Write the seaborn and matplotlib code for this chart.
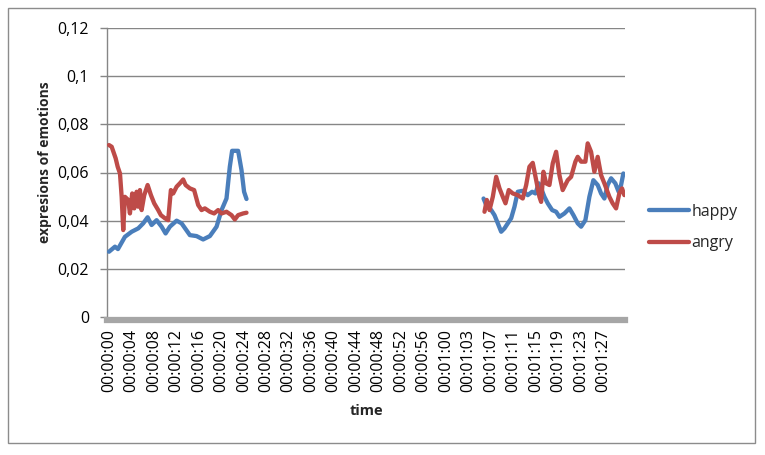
import matplotlib
matplotlib.use("Agg")
import matplotlib.pyplot as plt
import matplotlib.patches as mpatches
from matplotlib.lines import Line2D
import seaborn as sns
import pandas as pd

# ---------------- data ----------------
tick_labels = ["00:00:00", "00:00:04", "00:00:08", "00:00:12", "00:00:16", "00:00:20",
               "00:00:24", "00:00:28", "00:00:32", "00:00:36", "00:00:40", "00:00:44",
               "00:00:48", "00:00:52", "00:00:56", "00:01:00", "00:01:03", "00:01:07",
               "00:01:11", "00:01:15", "00:01:19", "00:01:23", "00:01:27"]
tick_positions = [0, 4, 8, 12, 16, 20, 24, 28, 32, 36, 40, 44, 48, 52, 56, 60, 64, 68,
                  72, 76, 80, 84, 88]

happy_left_pos = [0, 1.07, 1.6, 2.84, 4.04, 5.21, 6.1, 6.88, 7.59, 8.48, 9.37, 10.08,
                  10.84, 12.04, 12.92, 14.4, 15.59, 16.76, 17.96, 19.15, 20.04, 20.92,
                  21.51, 21.92, 22.99, 23.59, 24.05, 24.48]
happy_left = [0.0271, 0.0292, 0.0282, 0.0333, 0.0354, 0.0368, 0.0389, 0.0414, 0.0382,
              0.0402, 0.0375, 0.0347, 0.0375, 0.0400, 0.0389, 0.0340, 0.0336, 0.0322,
              0.0336, 0.0375, 0.0444, 0.0492, 0.0624, 0.0690, 0.0690, 0.0610, 0.0520,
              0.0490]

angry_left_pos = [0, 0.48, 1.19, 1.55, 1.96, 2.26, 2.54, 2.84, 3.43, 3.73, 4.14, 4.5,
                  4.92, 5.21, 5.51, 5.81, 6.28, 6.88, 7.47, 8.05, 8.76, 9.24, 9.96,
                  10.54, 11.02, 11.43, 12.04, 12.62, 13.21, 13.64, 14.4, 15.16, 15.88,
                  16.48, 17.07, 17.96, 18.72, 19.43, 20.04, 20.92, 21.81, 22.4, 22.99,
                  23.88, 24.48]
angry_left = [0.0714, 0.0707, 0.0659, 0.0624, 0.0596, 0.0499, 0.0361, 0.0499, 0.0486,
              0.0430, 0.0513, 0.0451, 0.0520, 0.0458, 0.0527, 0.0444, 0.0506, 0.0548,
              0.0506, 0.0472, 0.0444, 0.0423, 0.0410, 0.0402, 0.0527, 0.0513, 0.0541,
              0.0555, 0.0571, 0.0548, 0.0534, 0.0527, 0.0465, 0.0444, 0.0451, 0.0437,
              0.0430, 0.0444, 0.0430, 0.0437, 0.0423, 0.0405, 0.0423, 0.0430, 0.0433]

happy_right_pos = [66.67, 67.15, 68.04, 68.62, 69.21, 69.81, 70.4, 70.99, 71.59, 72.18,
                   72.76, 73.65, 74.54, 75.32, 75.91, 76.5, 76.92, 77.51, 78.1, 78.88,
                   79.59, 80.18, 81.07, 81.96, 82.67, 83.43, 84.04, 84.8, 85.51, 86.22,
                   86.99, 87.59, 88.18, 88.76, 89.37, 90.13, 90.72, 91.15, 91.56]
happy_right = [0.0492, 0.0465, 0.0444, 0.0423, 0.0389, 0.0354, 0.0368, 0.0389, 0.0410,
               0.0458, 0.0520, 0.0524, 0.0506, 0.0520, 0.0513, 0.0555, 0.0534, 0.0499,
               0.0472, 0.0444, 0.0437, 0.0416, 0.0430, 0.0451, 0.0423, 0.0389, 0.0375,
               0.0402, 0.0499, 0.0568, 0.0548, 0.0513, 0.0492, 0.0548, 0.0576, 0.0555,
               0.0520, 0.0548, 0.0596]

angry_right_pos = [66.84, 67.25, 67.73, 68.32, 68.92, 69.51, 70.1, 70.58, 71.16, 71.88,
                   72.76, 73.65, 74.26, 74.84, 75.43, 76.04, 76.62, 76.92, 77.33, 77.81,
                   78.4, 78.99, 79.59, 80.18, 80.76, 81.65, 82.26, 83.02, 83.43, 84.04,
                   84.8, 85.21, 85.81, 86.4, 86.99, 87.59, 88.18, 89.07, 89.65, 90.26,
                   90.84, 91.32, 91.73]
angry_right = [0.0437, 0.0486, 0.0444, 0.0499, 0.0582, 0.0534, 0.0499, 0.0472, 0.0527,
               0.0513, 0.0506, 0.0492, 0.0548, 0.0624, 0.0640, 0.0568, 0.0499, 0.0478,
               0.0603, 0.0555, 0.0548, 0.0638, 0.0686, 0.0589, 0.0527, 0.0568, 0.0582,
               0.0645, 0.0665, 0.0645, 0.0645, 0.0721, 0.0686, 0.0603, 0.0665, 0.0589,
               0.0555, 0.0499, 0.0472, 0.0451, 0.0513, 0.0534, 0.0506]

y_ticks = [0, 0.02, 0.04, 0.06, 0.08, 0.10, 0.12]
y_tick_labels = ["0", "0,02", "0,04", "0,06", "0,08", "0,1", "0,12"]

series = ["happy", "angry"]
colors = {"happy": "#4A7EBB", "angry": "#BE4B48"}

# ------------- long table -------------
frames = []
for name, seg, pos, val in [("happy", 0, happy_left_pos, happy_left),
                            ("happy", 1, happy_right_pos, happy_right),
                            ("angry", 0, angry_left_pos, angry_left),
                            ("angry", 1, angry_right_pos, angry_right)]:
    frames.append(pd.DataFrame({"pos": pos, "value": val,
                                "emotion": name, "segment": seg}))
df = pd.concat(frames, ignore_index=True)

# ---------------- plot ----------------
sns.set_style("white")
plt.rcParams["font.family"] = ["Open Sans", "DejaVu Sans"]

fig = plt.figure(figsize=(7.65, 4.55), dpi=100)
ax = fig.add_axes([107 / 765, 1 - 317 / 455, (625 - 107) / 765, (317 - 28) / 455])

for yv in y_ticks[1:]:
    ax.axhline(yv, color="#868686", lw=1.0, zorder=0)

sns.lineplot(data=df, x="pos", y="value", hue="emotion", units="segment",
             estimator=None, palette=colors, hue_order=series, linewidth=3.1,
             legend=False, ax=ax, zorder=3)

ax.set_xlim(-0.35, 91.85)
ax.set_ylim(0, 0.12)
ax.set_yticks(y_ticks)
ax.set_yticklabels(y_tick_labels)
ax.set_xticks(tick_positions)
ax.set_xticklabels(tick_labels)

for s in ["top", "right"]:
    ax.spines[s].set_visible(False)
ax.spines["left"].set_color("#868686")
ax.spines["left"].set_linewidth(1.0)
ax.spines["bottom"].set_color("#A6A6A6")
ax.spines["bottom"].set_linewidth(4.5)
ax.spines["bottom"].set_position(("outward", 2.5))

ax.tick_params(axis="y", which="both", left=True, length=5, width=1.0,
               color="#868686", pad=8, labelsize=11.5, labelcolor="black")
ax.tick_params(axis="x", which="both", bottom=False, length=0, pad=6,
               labelsize=11.5, labelcolor="black", labelrotation=90)

ax.set_xlabel("time", fontsize=10.5, fontweight="bold", labelpad=9)
ax.set_ylabel("")
fig.text(45 / 765, 1 - 162 / 455, "expresions of emotions", rotation=90,
         fontsize=10, fontweight="bold", ha="center", va="center")

handles = [Line2D([], [], color=colors[s], lw=3.1) for s in series]
fig.legend(handles, series, loc="upper left", bbox_to_anchor=(649 / 765, 1 - 204 / 455),
           frameon=False, fontsize=11.5, handlelength=2.5, handletextpad=0.15,
           labelspacing=0.95, borderpad=0, borderaxespad=0)

fig.patches.append(mpatches.Rectangle((8 / 765, 1 - 443 / 455), 747 / 765, 435 / 455,
                                      transform=fig.transFigure, fill=False,
                                      edgecolor="#8C8C8C", lw=1.0, zorder=0))

fig.savefig("out.png", dpi=100, facecolor="white")
